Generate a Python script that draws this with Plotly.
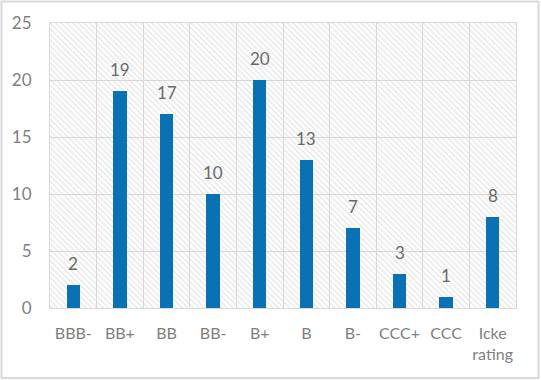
import plotly.graph_objects as go

categories = ["BBB-", "BB+", "BB", "BB-", "B+", "B", "B-", "CCC+", "CCC", "Icke<br>rating"]
values = [2, 19, 17, 10, 20, 13, 7, 3, 1, 8]
y_max = 25
y_ticks = [0, 5, 10, 15, 20, 25]

W, H = 541, 380
ml, mr, mt, mb = 50, 25, 23, 72
pw, ph = W - ml - mr, H - mt - mb

bar_color = "#0a72b4"
grid_color = "#d9d9d9"
tick_color = "#7f7f7f"
label_color = "#6a6a6a"
font_family = "Lato, 'Open Sans', sans-serif"

fig = go.Figure()

# hatched plot-area background
fig.add_trace(go.Bar(
    x=categories, y=[y_max] * len(categories), width=1,
    marker=dict(color="rgba(0,0,0,0)", line=dict(width=0),
                pattern=dict(shape="\\", fgcolor="#cfcfcf", size=4, solidity=0.35, fillmode="overlay")),
    hoverinfo="skip", showlegend=False,
))

fig.add_trace(go.Bar(
    x=categories, y=values, width=0.29,
    marker=dict(color=bar_color, line=dict(width=0)),
    showlegend=False,
))

for c, v in zip(categories, values):
    fig.add_annotation(x=c, y=v, text=str(v), showarrow=False, yanchor="bottom",
                       yshift=9, font=dict(size=17, color=label_color, family=font_family))

fig.update_layout(
    width=W, height=H,
    margin=dict(l=ml, r=mr, t=mt, b=mb, autoexpand=False),
    paper_bgcolor="white", plot_bgcolor="white",
    barmode="overlay", bargap=0,
    font=dict(family=font_family, size=16, color=tick_color),
    xaxis=dict(type="category", tickson="boundaries", showgrid=True, gridcolor=grid_color,
               gridwidth=1, showline=True, linecolor=grid_color, mirror=True, tickangle=0,
               automargin=False,
               ticks="", tickfont=dict(size=16, color=tick_color), ticklabelstandoff=11),
    yaxis=dict(range=[0, y_max], tickvals=y_ticks, showgrid=True, gridcolor=grid_color,
               showline=True, linecolor=grid_color, mirror=True, zeroline=False, automargin=False,
               ticks="", tickfont=dict(size=17, color=tick_color), ticklabelstandoff=14),
    shapes=[dict(type="rect", xref="paper", yref="paper",
                 x0=(1.5 - ml) / pw, x1=(538.5 - ml) / pw,
                 y0=(H - mb - 378) / ph, y1=(H - mb - 1.5) / ph,
                 line=dict(color="#d9d9d9", width=2), layer="below")],
)

fig.write_html("out.html", config={"displayModeBar": False},
               post_script="document.body.style.margin='0';")
